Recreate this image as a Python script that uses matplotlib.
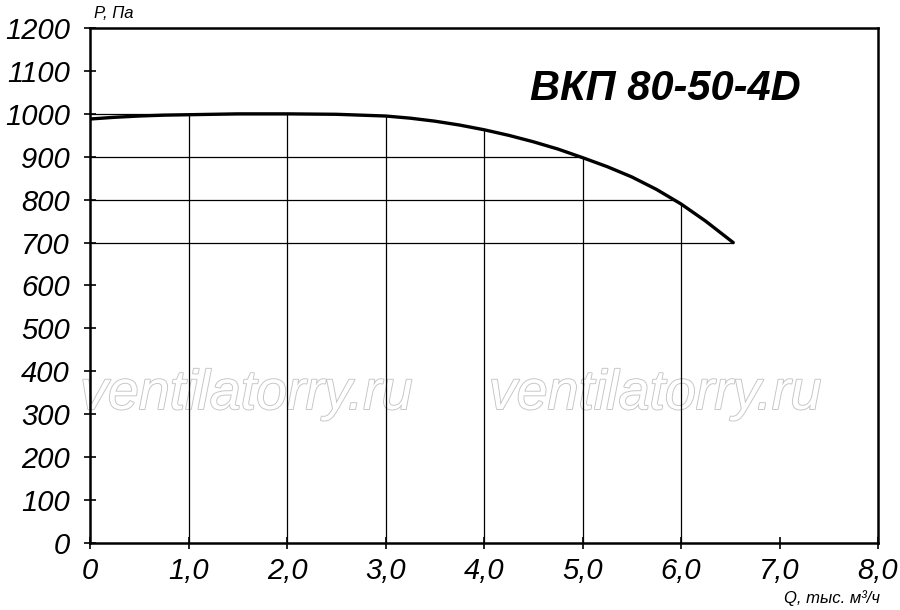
import numpy as np
import matplotlib.pyplot as plt
import matplotlib.patheffects as pe

# curve P(Q)
q = [0, 0.25, 0.5, 0.75, 1.0, 1.5, 2.0, 2.5, 3.0, 3.25, 3.5, 3.75, 4.0, 4.25,
     4.5, 4.75, 5.0, 5.25, 5.5, 5.75, 6.0, 6.25, 6.53]
p = [988, 992, 995, 997, 998, 1000, 1000, 999, 995, 990, 983, 974, 963, 950,
     935, 918, 898, 877, 853, 824, 790, 750, 700]

x_ticks = [0, 1, 2, 3, 4, 5, 6, 7, 8]
x_labels = ['0', '1,0', '2,0', '3,0', '4,0', '5,0', '6,0', '7,0', '8,0']
y_ticks = list(range(0, 1300, 100))
grid_q = [1, 2, 3, 4, 5, 6]
grid_p = [700, 800, 900, 1000]

title = 'ВКП 80-50-4D'
font = 'Liberation Sans'

fig = plt.figure(figsize=(9, 6.1), dpi=100)
ax = fig.add_axes([0.1, 0.11, 0.8756, 0.844])

# watermark
for xw in [-0.1, 4.05]:
    ax.text(xw, 312, 'ventilatorry.ru', fontsize=40, family=font, style='italic',
            color='white', zorder=0.5,
            path_effects=[pe.withStroke(linewidth=1.3, foreground='#c4c4c4')])

# grid lines only under the curve
for g in grid_q:
    ax.plot([g, g], [0, np.interp(g, q, p)], color='black', lw=0.9, zorder=2)
qd = np.array(q[6:])
pd_ = np.array(p[6:])
for g in grid_p:
    xe = np.interp(g, pd_[::-1], qd[::-1])
    ax.plot([0, xe], [g, g], color='black', lw=0.9, zorder=2)

ax.plot(q, p, color='black', lw=2.4, zorder=3, solid_capstyle='round',
        solid_joinstyle='round')

ax.set_xlim(0, 8)
ax.set_ylim(0, 1200)
ax.set_xticks(x_ticks)
ax.set_xticklabels(x_labels)
ax.set_yticks(y_ticks)
for s in ax.spines.values():
    s.set_linewidth(1.8)
ax.tick_params(direction='inout', length=9, width=1.2, labelsize=21, pad=10)
ax.tick_params(axis='x', pad=6)
for lab in ax.get_xticklabels() + ax.get_yticklabels():
    lab.set_family(font)
    lab.set_style('italic')

ax.text(4.47, 1058, title, fontsize=30, family=font,
        style='italic', weight='bold', ha='left', va='center')
fig.text(0.105, 0.965, 'P, Па', fontsize=12, family=font, style='italic',
         ha='left', va='bottom')
fig.text(0.978, 0.006, 'Q, тыс. м³/ч', fontsize=12, family=font,
         style='italic', ha='right', va='bottom')

fig.savefig('out.png', dpi=100)
